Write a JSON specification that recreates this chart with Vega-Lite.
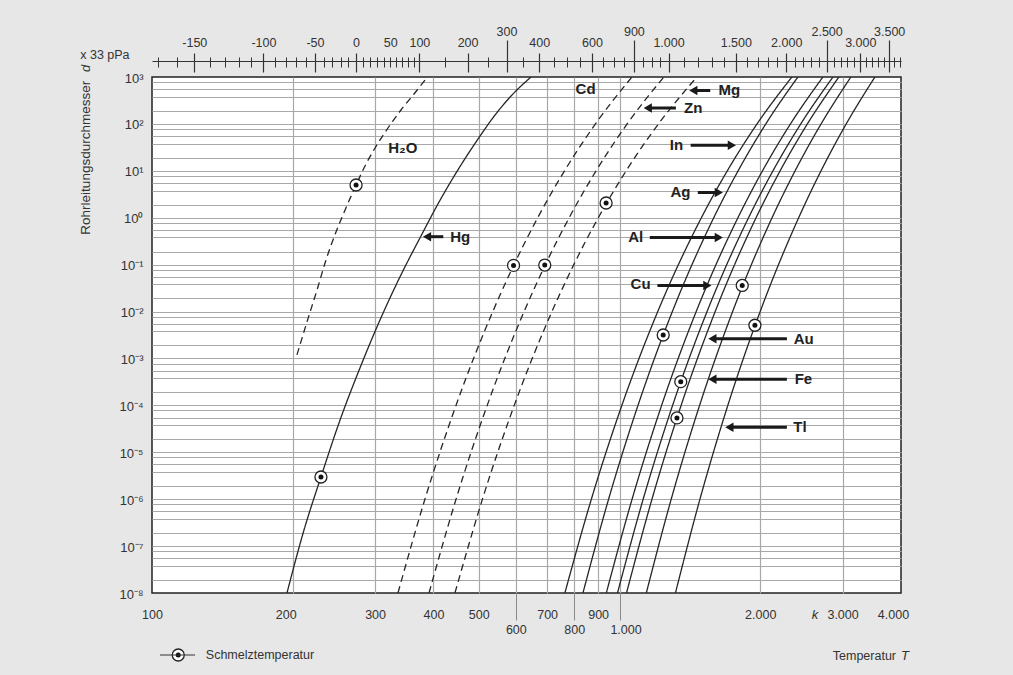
{
  "$schema": "https://vega.github.io/schema/vega-lite/v6.json",
  "width": 749,
  "height": 516,
  "autosize": {"type": "none"},
  "padding": {"left": 152, "top": 77, "right": 112, "bottom": 82},
  "background": "#e7e7e7",
  "config": {
    "view": {"fill": "#ffffff", "stroke": "#222222", "strokeWidth": 1.5},
    "axis": {"labelFont": "Liberation Sans", "labelColor": "#333333", "labelFontSize": 12.5, "tickColor": "#333333", "labelOverlap": false, "labelBound": false, "labelFlush": false, "title": null},
    "text": {"font": "Liberation Sans"}
  },
  "datasets": {
    "curves": [
      {"n": "H2O", "s": "d", "K": 204.2, "p": 0.00119},
      {"n": "H2O", "s": "d", "K": 214.5, "p": 0.00598},
      {"n": "H2O", "s": "d", "K": 225.4, "p": 0.0288},
      {"n": "H2O", "s": "d", "K": 235.6, "p": 0.1256},
      {"n": "H2O", "s": "d", "K": 247.5, "p": 0.497},
      {"n": "H2O", "s": "d", "K": 259.9, "p": 1.613},
      {"n": "H2O", "s": "d", "K": 273.2, "p": 4.985},
      {"n": "H2O", "s": "d", "K": 285.5, "p": 12.67},
      {"n": "H2O", "s": "d", "K": 299.9, "p": 30.66},
      {"n": "H2O", "s": "d", "K": 319.7, "p": 81.8},
      {"n": "H2O", "s": "d", "K": 340.8, "p": 197.9},
      {"n": "H2O", "s": "d", "K": 363.4, "p": 434.1},
      {"n": "H2O", "s": "d", "K": 388.4, "p": 1000},
      {"n": "Hg", "s": "s", "K": 194.4, "p": 1e-8},
      {"n": "Hg", "s": "s", "K": 211.4, "p": 2.2e-7},
      {"n": "Hg", "s": "s", "K": 229.8, "p": 2.97e-6},
      {"n": "Hg", "s": "s", "K": 252.5, "p": 4.88e-5},
      {"n": "Hg", "s": "s", "K": 278.5, "p": 6.27e-4},
      {"n": "Hg", "s": "s", "K": 307.4, "p": 0.00661},
      {"n": "Hg", "s": "s", "K": 339.1, "p": 0.0546},
      {"n": "Hg", "s": "s", "K": 376.1, "p": 0.408},
      {"n": "Hg", "s": "s", "K": 415.1, "p": 2.57},
      {"n": "Hg", "s": "s", "K": 458.0, "p": 13.3},
      {"n": "Hg", "s": "s", "K": 498.2, "p": 47.7},
      {"n": "Hg", "s": "s", "K": 541.7, "p": 154.9},
      {"n": "Hg", "s": "s", "K": 588.8, "p": 413.3},
      {"n": "Hg", "s": "s", "K": 646.7, "p": 1000},
      {"n": "Cd", "s": "d", "K": 335.8, "p": 1e-8},
      {"n": "Cd", "s": "d", "K": 383.5, "p": 1e-6},
      {"n": "Cd", "s": "d", "K": 447.0, "p": 1e-4},
      {"n": "Cd", "s": "d", "K": 535.7, "p": 0.01},
      {"n": "Cd", "s": "d", "K": 594.7, "p": 0.1},
      {"n": "Cd", "s": "d", "K": 668.3, "p": 1},
      {"n": "Cd", "s": "d", "K": 762.7, "p": 10},
      {"n": "Cd", "s": "d", "K": 888.2, "p": 100},
      {"n": "Cd", "s": "d", "K": 1063, "p": 1000},
      {"n": "Zn", "s": "d", "K": 391.3, "p": 1e-8},
      {"n": "Zn", "s": "d", "K": 447.0, "p": 1e-6},
      {"n": "Zn", "s": "d", "K": 521.2, "p": 1e-4},
      {"n": "Zn", "s": "d", "K": 625.0, "p": 0.01},
      {"n": "Zn", "s": "d", "K": 694.1, "p": 0.1},
      {"n": "Zn", "s": "d", "K": 780.3, "p": 1},
      {"n": "Zn", "s": "d", "K": 891.0, "p": 10},
      {"n": "Zn", "s": "d", "K": 1038.4, "p": 100},
      {"n": "Zn", "s": "d", "K": 1244, "p": 1000},
      {"n": "Mg", "s": "d", "K": 444.6, "p": 1e-8},
      {"n": "Mg", "s": "d", "K": 509.1, "p": 1e-6},
      {"n": "Mg", "s": "d", "K": 595.4, "p": 1e-4},
      {"n": "Mg", "s": "d", "K": 716.9, "p": 0.01},
      {"n": "Mg", "s": "d", "K": 798.4, "p": 0.1},
      {"n": "Mg", "s": "d", "K": 900.7, "p": 1},
      {"n": "Mg", "s": "d", "K": 1033.2, "p": 10},
      {"n": "Mg", "s": "d", "K": 1211.5, "p": 100},
      {"n": "Mg", "s": "d", "K": 1464, "p": 1000},
      {"n": "In", "s": "s", "K": 764.0, "p": 1e-8},
      {"n": "In", "s": "s", "K": 870.5, "p": 1e-6},
      {"n": "In", "s": "s", "K": 1011.6, "p": 1e-4},
      {"n": "In", "s": "s", "K": 1207.2, "p": 0.01},
      {"n": "In", "s": "s", "K": 1496.6, "p": 1},
      {"n": "In", "s": "s", "K": 1700.4, "p": 10},
      {"n": "In", "s": "s", "K": 1968.5, "p": 100},
      {"n": "In", "s": "s", "K": 2336.9, "p": 1000},
      {"n": "Ag", "s": "s", "K": 835.1, "p": 1e-8},
      {"n": "Ag", "s": "s", "K": 947.6, "p": 1e-6},
      {"n": "Ag", "s": "s", "K": 1095.2, "p": 1e-4},
      {"n": "Ag", "s": "s", "K": 1297.2, "p": 0.01},
      {"n": "Ag", "s": "s", "K": 1590.5, "p": 1},
      {"n": "Ag", "s": "s", "K": 1793.3, "p": 10},
      {"n": "Ag", "s": "s", "K": 2055.4, "p": 100},
      {"n": "Ag", "s": "s", "K": 2407.2, "p": 1000},
      {"n": "Al", "s": "s", "K": 937.0, "p": 1e-8},
      {"n": "Al", "s": "s", "K": 1063.8, "p": 1e-6},
      {"n": "Al", "s": "s", "K": 1230.4, "p": 1e-4},
      {"n": "Al", "s": "s", "K": 1458.9, "p": 0.01},
      {"n": "Al", "s": "s", "K": 1791.6, "p": 1},
      {"n": "Al", "s": "s", "K": 2022.1, "p": 10},
      {"n": "Al", "s": "s", "K": 2320.8, "p": 100},
      {"n": "Al", "s": "s", "K": 2722.9, "p": 1000},
      {"n": "Cu", "s": "s", "K": 990.0, "p": 1e-8},
      {"n": "Cu", "s": "s", "K": 1123.5, "p": 1e-6},
      {"n": "Cu", "s": "s", "K": 1298.8, "p": 1e-4},
      {"n": "Cu", "s": "s", "K": 1538.9, "p": 0.01},
      {"n": "Cu", "s": "s", "K": 1887.9, "p": 1},
      {"n": "Cu", "s": "s", "K": 2129.3, "p": 10},
      {"n": "Cu", "s": "s", "K": 2441.5, "p": 100},
      {"n": "Cu", "s": "s", "K": 2861.0, "p": 1000},
      {"n": "Au", "s": "s", "K": 1035.0, "p": 1e-8},
      {"n": "Au", "s": "s", "K": 1173.3, "p": 1e-6},
      {"n": "Au", "s": "s", "K": 1354.4, "p": 1e-4},
      {"n": "Au", "s": "s", "K": 1601.7, "p": 0.01},
      {"n": "Au", "s": "s", "K": 1959.3, "p": 1},
      {"n": "Au", "s": "s", "K": 2205.4, "p": 10},
      {"n": "Au", "s": "s", "K": 2522.4, "p": 100},
      {"n": "Au", "s": "s", "K": 2945.8, "p": 1000},
      {"n": "Fe", "s": "s", "K": 1141.0, "p": 1e-8},
      {"n": "Fe", "s": "s", "K": 1289.9, "p": 1e-6},
      {"n": "Fe", "s": "s", "K": 1483.5, "p": 1e-4},
      {"n": "Fe", "s": "s", "K": 1745.5, "p": 0.01},
      {"n": "Fe", "s": "s", "K": 2119.8, "p": 1},
      {"n": "Fe", "s": "s", "K": 2374.4, "p": 10},
      {"n": "Fe", "s": "s", "K": 2698.5, "p": 100},
      {"n": "Fe", "s": "s", "K": 3125.1, "p": 1000},
      {"n": "Ti", "s": "s", "K": 1317.0, "p": 1e-8},
      {"n": "Ti", "s": "s", "K": 1486.0, "p": 1e-6},
      {"n": "Ti", "s": "s", "K": 1704.8, "p": 1e-4},
      {"n": "Ti", "s": "s", "K": 1999.2, "p": 0.01},
      {"n": "Ti", "s": "s", "K": 2416.5, "p": 1},
      {"n": "Ti", "s": "s", "K": 2698.1, "p": 10},
      {"n": "Ti", "s": "s", "K": 3054.0, "p": 100},
      {"n": "Ti", "s": "s", "K": 3517.9, "p": 1000}
    ],
    "mp": [
      {"n": "H2O", "K": 273.2, "p": 4.985},
      {"n": "Hg", "K": 229.8, "p": 2.97e-6},
      {"n": "Cd", "K": 593.4, "p": 0.0964},
      {"n": "Zn", "K": 692, "p": 0.098},
      {"n": "Mg", "K": 936, "p": 2.06},
      {"n": "Ag", "K": 1240, "p": 0.00316},
      {"n": "Cu", "K": 1352, "p": 0.00032},
      {"n": "Au", "K": 1327, "p": 0.000054},
      {"n": "Fe", "K": 1830, "p": 0.036},
      {"n": "Ti", "K": 1948, "p": 0.0051},
      {"n": "legend", "K": 113.8, "p": 4.77e-10}
    ],
    "arrows": [
      {"n": "Hg", "K1": 419.8, "K2": 387.5, "p": 0.394, "d": "left"},
      {"n": "Mg", "K1": 1563.2, "K2": 1438.5, "p": 515.6, "d": "left"},
      {"n": "Zn", "K1": 1320.0, "K2": 1149.2, "p": 218.4, "d": "left"},
      {"n": "In", "K1": 1419.6, "K2": 1738.9, "p": 35.17, "d": "right"},
      {"n": "Ag", "K1": 1470.6, "K2": 1630.8, "p": 3.45, "d": "right"},
      {"n": "Al", "K1": 1160.8, "K2": 1630.8, "p": 0.381, "d": "right"},
      {"n": "Cu", "K1": 1205.2, "K2": 1541.1, "p": 0.0361, "d": "right"},
      {"n": "Au", "K1": 2280.4, "K2": 1579.8, "p": 0.002637, "d": "left"},
      {"n": "Fe", "K1": 2280.4, "K2": 1579.8, "p": 0.0003613, "d": "left"},
      {"n": "Tl", "K1": 2280.4, "K2": 1717.8, "p": 0.00003425, "d": "left"}
    ],
    "labels": [
      {"t": "H₂O", "K": 344.0, "p": 30.96},
      {"t": "Hg", "K": 456.1, "p": 0.394},
      {"t": "Cd", "K": 845.9, "p": 541.5},
      {"t": "Mg", "K": 1717.9, "p": 515.6},
      {"t": "Zn", "K": 1436.9, "p": 218.4},
      {"t": "In", "K": 1323.4, "p": 35.17},
      {"t": "Ag", "K": 1350.5, "p": 3.45},
      {"t": "Al", "K": 1082.9, "p": 0.381},
      {"t": "Cu", "K": 1109.4, "p": 0.0387},
      {"t": "Au", "K": 2476.4, "p": 0.002637},
      {"t": "Fe", "K": 2474, "p": 0.0003613},
      {"t": "Tl", "K": 2431.6, "p": 0.00003425}
    ],
    "notes": [
      {"t": "x 33 pPa", "K": 79.3, "p": 2944, "a": 0},
      {"t": "Temperatur", "K": 3340, "p": 4.54e-10, "a": 0},
      {"t": "Schmelztemperatur", "K": 170.2, "p": 4.77e-10, "a": 0}
    ],
    "ytitle": [
      {"t": "Rohrleitungsdurchmesser", "K": 72.15, "p": 19.0, "a": 270}
    ],
    "italic": [
      {"t": "k", "K": 2617.5, "p": 3.4e-9, "a": 0},
      {"t": "T", "K": 4078, "p": 4.54e-10, "a": 0},
      {"t": "d", "K": 72.15, "p": 1530, "a": 270}
    ],
    "legendline": [
      {"K1": 104.0, "K2": 123.6, "p": 4.77e-10}
    ]
  },
  "resolve": {"axis": {"x": "independent", "y": "independent"}},
  "layer": [
    {
      "data": {"name": "curves"},
      "mark": {"type": "line", "interpolate": "monotone", "clip": true, "color": "#262626", "strokeWidth": 1.3},
      "encoding": {
        "x": {"field": "K", "type": "quantitative", "scale": {"type": "log", "domain": [100, 4000], "nice": false},
          "axis": {"orient": "bottom", "values": [100, 200, 300, 400, 500, 700, 900, 2000, 3000, 4000], "grid": false, "ticks": false, "tickSize": 0, "domain": false, "labelPadding": 15,
            "labelOffset": {"condition": [{"test": "datum.value == 200", "value": -7}, {"test": "datum.value == 4000", "value": -8}], "value": 0},
            "labelExpr": "replace(format(datum.value, ','), ',', '.')"}},
        "y": {"field": "p", "type": "quantitative", "scale": {"type": "log", "domain": [1e-8, 1000], "nice": false},
          "axis": {"orient": "left", "values": [1000,780,550,380,190,100,78,55,38,19,10,7.8,5.5,3.8,1.9,1,0.78,0.55,0.38,0.19,0.1,0.078,0.055,0.038,0.019,0.01,0.0078,0.0055,0.0038,0.0019,0.001,0.00078,0.00055,0.00038,0.00019,0.0001,0.000078,0.000055,0.000038,0.000019,0.00001,7.8e-6,5.5e-6,3.8e-6,1.9e-6,1e-6,7.8e-7,5.5e-7,3.8e-7,1.9e-7,1e-7,7.8e-8,5.5e-8,3.8e-8,1.9e-8,1e-8],
            "grid": true, "gridColor": "#a8a8a8", "gridWidth": 1.2,
            "gridOpacity": {"condition": {"test": "datum.value > 999 || datum.value < 1.01e-8", "value": 0}, "value": 1},
            "ticks": false, "tickSize": 0, "domain": false, "labelPadding": 9, "labelOffset": 1, "labelFontSize": 13,
            "labelExpr": "abs(log(datum.value)/LN10 - round(log(datum.value)/LN10)) < 0.01 ? '10' + ['⁻⁸','⁻⁷','⁻⁶','⁻⁵','⁻⁴','⁻³','⁻²','⁻¹','⁰','¹','²','³'][round(log(datum.value)/LN10) + 8] : ''"}},
        "detail": {"field": "n", "type": "nominal"},
        "strokeDash": {"field": "s", "type": "nominal", "scale": {"domain": ["s", "d"], "range": [[1, 0], [7, 4.5]]}, "legend": null}
      }
    },
    {
      "data": {"name": "mp"},
      "mark": {"type": "point", "shape": "circle", "filled": true, "fill": "#ffffff", "stroke": "#222222", "strokeWidth": 1.3, "size": 144, "opacity": 1},
      "encoding": {
        "x": {"field": "K", "type": "quantitative", "scale": {"type": "log", "domain": [100, 4000], "nice": false},
          "axis": {"orient": "bottom", "values": [200, 300, 400, 500, 600, 700, 800, 900, 1000, 2000, 3000], "grid": true, "gridColor": "#a8a8a8", "gridWidth": 1.2, "labels": false, "ticks": false, "domain": false}},
        "y": {"field": "p", "type": "quantitative", "scale": {"type": "log", "domain": [1e-8, 1000], "nice": false}, "axis": null}
      }
    },
    {
      "data": {"name": "mp"},
      "mark": {"type": "point", "shape": "circle", "filled": true, "color": "#111111", "size": 25, "opacity": 1},
      "encoding": {
        "x": {"field": "K", "type": "quantitative", "scale": {"type": "log", "domain": [100, 4000], "nice": false},
          "axis": {"orient": "bottom", "values": [600, 800, 1000], "grid": false, "ticks": true, "tickSize": 27, "tickColor": "#8a8a8a", "tickWidth": 1, "domain": false, "labelPadding": 3,
            "labelOffset": {"condition": {"test": "datum.value == 1000", "value": 6}, "value": 0},
            "labelExpr": "replace(format(datum.value, ','), ',', '.')"}},
        "y": {"field": "p", "type": "quantitative", "scale": {"type": "log", "domain": [1e-8, 1000], "nice": false}, "axis": null}
      }
    },
    {
      "data": {"name": "arrows"},
      "mark": {"type": "rule", "color": "#1a1a1a", "strokeWidth": 3},
      "encoding": {
        "x": {"field": "K1", "type": "quantitative", "scale": {"type": "log", "domain": [100, 4000], "nice": false},
          "axis": {"orient": "top", "offset": 16, "domain": true, "domainColor": "#333333", "domainWidth": 1, "ticks": false, "labels": false, "grid": false}},
        "x2": {"field": "K2"},
        "y": {"field": "p", "type": "quantitative", "scale": {"type": "log", "domain": [1e-8, 1000], "nice": false}, "axis": null}
      }
    },
    {
      "data": {"name": "arrows"},
      "mark": {"type": "point", "filled": true, "color": "#1a1a1a", "size": 90, "opacity": 1},
      "encoding": {
        "x": {"field": "K2", "type": "quantitative", "scale": {"type": "log", "domain": [100, 4000], "nice": false},
          "axis": {"orient": "top", "offset": 10, "domain": false, "ticks": true, "tickSize": 10, "tickWidth": 1, "labels": false, "grid": false,
            "values": [103.15,113.15,133.15,143.15,153.15,163.15,183.15,193.15,203.15,213.15,233.15,243.15,253.15,263.15,283.15,293.15,303.15,313.15,323.15,333.15,343.15,353.15,363.15,423.15,523.15,623.15,723.15,773.15,823.15,923.15,973.15,1023.15,1123.15,1173.15,1223.15,1373.15,1473.15,1573.15,1673.15,1873.15,1973.15,2073.15,2173.15,2373.15,2473.15,2573.15,2673.15,2873.15,2973.15,3073.15,3173.15,3373.15,3473.15,3573.15,3673.15,3873.15,3973.15]}},
        "y": {"field": "p", "type": "quantitative", "scale": {"type": "log", "domain": [1e-8, 1000], "nice": false}, "axis": null},
        "shape": {"field": "d", "type": "nominal", "scale": {"domain": ["left", "right"], "range": ["triangle-left", "triangle-right"]}, "legend": null}
      }
    },
    {
      "data": {"name": "labels"},
      "mark": {"type": "text", "fontSize": 15, "fontWeight": "bold", "color": "#222222", "align": "center", "baseline": "middle"},
      "encoding": {
        "x": {"field": "K", "type": "quantitative", "scale": {"type": "log", "domain": [100, 4000], "nice": false},
          "axis": {"orient": "top", "offset": 5, "domain": false, "ticks": true, "tickSize": 19, "tickWidth": 1.2,
            "tickOpacity": {"condition": {"test": "abs(datum.value - 323.15) < 1", "value": 0}, "value": 1},
            "labelPadding": 3.5, "grid": false,
            "values": [123.15, 173.15, 223.15, 273.15, 323.15, 373.15, 473.15, 673.15, 873.15, 1273.15, 1773.15, 2273.15, 3273.15],
            "labelExpr": "(datum.value > 1070 && datum.value < 1076) ? '900' : ((datum.value < 273) ? '-' : '') + replace(format(abs(round(datum.value - 273.15)), ','), ',', '.')"}},
        "y": {"field": "p", "type": "quantitative", "scale": {"type": "log", "domain": [1e-8, 1000], "nice": false}, "axis": null},
        "text": {"field": "t", "type": "nominal"}
      }
    },
    {
      "data": {"name": "notes"},
      "mark": {"type": "text", "fontSize": 12.5, "color": "#333333", "align": "center", "baseline": "middle"},
      "encoding": {
        "x": {"field": "K", "type": "quantitative", "scale": {"type": "log", "domain": [100, 4000], "nice": false},
          "axis": {"orient": "top", "offset": 5, "domain": false, "ticks": true, "tickSize": 32, "tickWidth": 1.2, "labelPadding": 1.5, "grid": false,
            "values": [573.15, 1073.15, 2773.15, 3773.15],
            "labelExpr": "(datum.value > 1070 && datum.value < 1076) ? '900' : ((datum.value < 273) ? '-' : '') + replace(format(abs(round(datum.value - 273.15)), ','), ',', '.')"}},
        "y": {"field": "p", "type": "quantitative", "scale": {"type": "log", "domain": [1e-8, 1000], "nice": false}, "axis": null},
        "text": {"field": "t", "type": "nominal"}
      }
    },
    {
      "data": {"name": "ytitle"},
      "mark": {"type": "text", "fontSize": 13.5, "color": "#333333", "align": "center", "baseline": "middle"},
      "encoding": {
        "x": {"field": "K", "type": "quantitative", "scale": {"type": "log", "domain": [100, 4000], "nice": false}, "axis": null},
        "y": {"field": "p", "type": "quantitative", "scale": {"type": "log", "domain": [1e-8, 1000], "nice": false}, "axis": null},
        "angle": {"field": "a", "type": "quantitative", "scale": null},
        "text": {"field": "t", "type": "nominal"}
      }
    },
    {
      "data": {"name": "italic"},
      "mark": {"type": "text", "fontSize": 13, "fontStyle": "italic", "color": "#333333", "align": "center", "baseline": "middle"},
      "encoding": {
        "x": {"field": "K", "type": "quantitative", "scale": {"type": "log", "domain": [100, 4000], "nice": false}, "axis": null},
        "y": {"field": "p", "type": "quantitative", "scale": {"type": "log", "domain": [1e-8, 1000], "nice": false}, "axis": null},
        "angle": {"field": "a", "type": "quantitative", "scale": null},
        "text": {"field": "t", "type": "nominal"}
      }
    },
    {
      "data": {"name": "legendline"},
      "mark": {"type": "rule", "color": "#333333", "strokeWidth": 1.2},
      "encoding": {
        "x": {"field": "K1", "type": "quantitative", "scale": {"type": "log", "domain": [100, 4000], "nice": false}, "axis": null},
        "x2": {"field": "K2"},
        "y": {"field": "p", "type": "quantitative", "scale": {"type": "log", "domain": [1e-8, 1000], "nice": false}, "axis": null}
      }
    }
  ]
}
